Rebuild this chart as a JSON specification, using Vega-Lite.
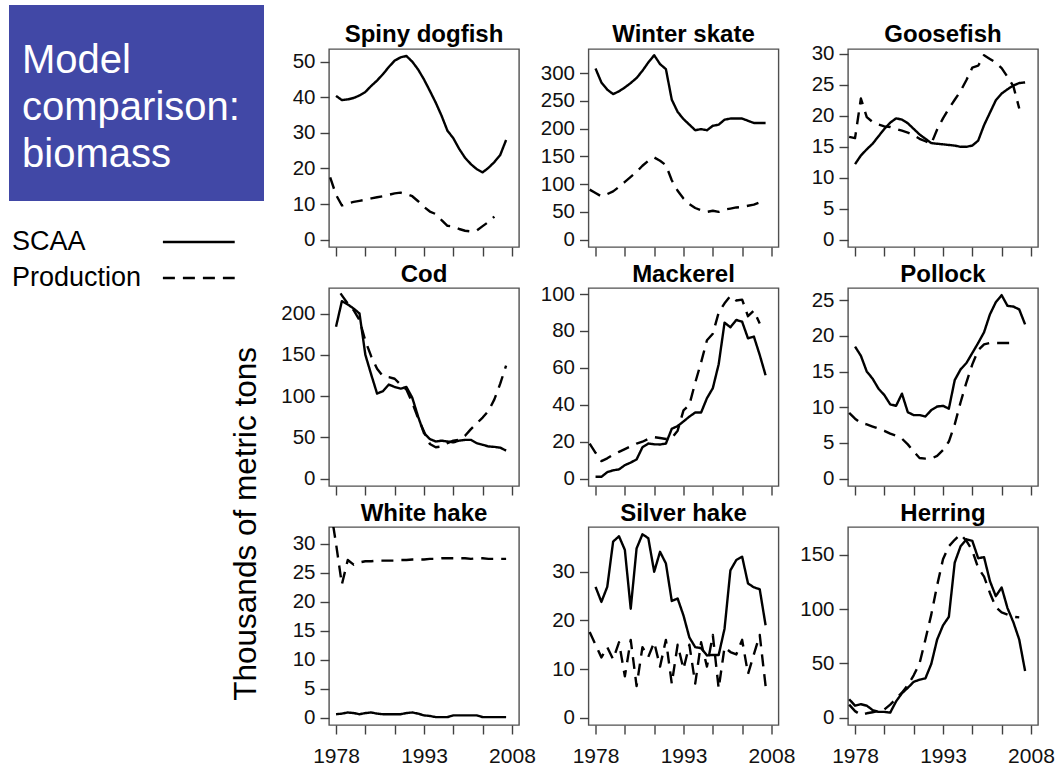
{
  "$schema": "https://vega.github.io/schema/vega-lite/v6.json",
  "padding": {"left": 9, "top": 5, "right": 3, "bottom": 3},
  "spacing": -34,
  "hconcat": [
    {
      "spacing": 23,
      "vconcat": [
        {
          "width": 255,
          "height": 196,
          "view": {"fill": "#4148A6", "stroke": null},
          "data": {"values": [{"line": "Model"}, {"line": "comparison:"}, {"line": "biomass"}]},
          "mark": {"type": "text", "align": "left", "baseline": "alphabetic", "color": "white", "fontSize": 40, "font": "Liberation Sans"},
          "encoding": {
            "x": {"value": 13},
            "y": {"field": "line", "type": "ordinal", "sort": ["Model", "comparison:", "biomass"], "scale": {"type": "point", "range": [68, 162], "padding": 0}, "axis": null},
            "text": {"field": "line"}
          }
        },
        {
          "width": 228,
          "height": 72,
          "view": {"stroke": null},
          "data": {"values": [{"model": "SCAA"}, {"model": "Production"}]},
          "encoding": {
            "y": {"field": "model", "type": "nominal", "sort": ["SCAA", "Production"], "scale": {"type": "point", "padding": 0.5}, "axis": null}
          },
          "layer": [
            {
              "mark": {"type": "text", "align": "left", "baseline": "middle", "fontSize": 27, "font": "Liberation Sans", "color": "black"},
              "encoding": {
                "x": {"datum": 0.013, "type": "quantitative", "scale": {"domain": [0, 1], "nice": false, "zero": false}, "axis": null},
                "text": {"field": "model"}
              }
            },
            {
              "mark": {"type": "rule", "color": "black", "strokeWidth": 2.5},
              "encoding": {
                "x": {"datum": 0.675, "type": "quantitative", "scale": {"domain": [0, 1], "nice": false, "zero": false}, "axis": null},
                "x2": {"datum": 0.99},
                "strokeDash": {"field": "model", "type": "nominal", "scale": {"domain": ["SCAA", "Production"], "range": [[1, 0], [12, 8]]}, "legend": null}
              }
            }
          ]
        }
      ]
    },
    {
      "title": {"text": "Thousands of metric tons", "orient": "left", "anchor": "start", "font": "Liberation Sans", "fontSize": 31.5, "fontWeight": "normal", "color": "black", "baseline": "bottom", "offset": -14, "dx": 66},
      "columns": 3,
      "bounds": "full",
      "align": "each",
      "spacing": {"row": 0, "column": 2.5},
      "data": {"values": [
        {"species":"Spiny dogfish","year":1977,"SCAA":null,"Production":17.5},
        {"species":"Spiny dogfish","year":1978,"SCAA":40.4,"Production":12.6},
        {"species":"Spiny dogfish","year":1979,"SCAA":39.2,"Production":9.6},
        {"species":"Spiny dogfish","year":1980,"SCAA":39.4,"Production":10.2},
        {"species":"Spiny dogfish","year":1981,"SCAA":39.8,"Production":10.6},
        {"species":"Spiny dogfish","year":1982,"SCAA":40.5,"Production":10.9},
        {"species":"Spiny dogfish","year":1983,"SCAA":41.5,"Production":11.2},
        {"species":"Spiny dogfish","year":1984,"SCAA":43.2,"Production":11.6},
        {"species":"Spiny dogfish","year":1985,"SCAA":44.7,"Production":11.9},
        {"species":"Spiny dogfish","year":1986,"SCAA":46.5,"Production":12.2},
        {"species":"Spiny dogfish","year":1987,"SCAA":48.5,"Production":12.6},
        {"species":"Spiny dogfish","year":1988,"SCAA":50.3,"Production":13.0},
        {"species":"Spiny dogfish","year":1989,"SCAA":51.2,"Production":13.2},
        {"species":"Spiny dogfish","year":1990,"SCAA":51.6,"Production":12.8},
        {"species":"Spiny dogfish","year":1991,"SCAA":50.0,"Production":12.2},
        {"species":"Spiny dogfish","year":1992,"SCAA":47.8,"Production":10.8},
        {"species":"Spiny dogfish","year":1993,"SCAA":45.0,"Production":9.2},
        {"species":"Spiny dogfish","year":1994,"SCAA":41.8,"Production":7.9},
        {"species":"Spiny dogfish","year":1995,"SCAA":38.5,"Production":7.2},
        {"species":"Spiny dogfish","year":1996,"SCAA":34.8,"Production":5.5},
        {"species":"Spiny dogfish","year":1997,"SCAA":30.6,"Production":3.9},
        {"species":"Spiny dogfish","year":1998,"SCAA":28.5,"Production":3.7},
        {"species":"Spiny dogfish","year":1999,"SCAA":25.5,"Production":3.0},
        {"species":"Spiny dogfish","year":2000,"SCAA":23.0,"Production":2.5},
        {"species":"Spiny dogfish","year":2001,"SCAA":21.2,"Production":2.3},
        {"species":"Spiny dogfish","year":2002,"SCAA":19.8,"Production":2.6},
        {"species":"Spiny dogfish","year":2003,"SCAA":18.9,"Production":3.8},
        {"species":"Spiny dogfish","year":2004,"SCAA":20.2,"Production":5.0},
        {"species":"Spiny dogfish","year":2005,"SCAA":21.8,"Production":6.5},
        {"species":"Spiny dogfish","year":2006,"SCAA":23.8,"Production":null},
        {"species":"Spiny dogfish","year":2007,"SCAA":28.0,"Production":null},
        {"species":"Winter skate","year":1977,"SCAA":null,"Production":90},
        {"species":"Winter skate","year":1978,"SCAA":308,"Production":84},
        {"species":"Winter skate","year":1979,"SCAA":283,"Production":78},
        {"species":"Winter skate","year":1980,"SCAA":270,"Production":82},
        {"species":"Winter skate","year":1981,"SCAA":262,"Production":87},
        {"species":"Winter skate","year":1982,"SCAA":267,"Production":95},
        {"species":"Winter skate","year":1983,"SCAA":274,"Production":104},
        {"species":"Winter skate","year":1984,"SCAA":282,"Production":113},
        {"species":"Winter skate","year":1985,"SCAA":291,"Production":122},
        {"species":"Winter skate","year":1986,"SCAA":304,"Production":133},
        {"species":"Winter skate","year":1987,"SCAA":319,"Production":142},
        {"species":"Winter skate","year":1988,"SCAA":332,"Production":148},
        {"species":"Winter skate","year":1989,"SCAA":316,"Production":142},
        {"species":"Winter skate","year":1990,"SCAA":307,"Production":134},
        {"species":"Winter skate","year":1991,"SCAA":252,"Production":107},
        {"species":"Winter skate","year":1992,"SCAA":230,"Production":88},
        {"species":"Winter skate","year":1993,"SCAA":217,"Production":74},
        {"species":"Winter skate","year":1994,"SCAA":207,"Production":64},
        {"species":"Winter skate","year":1995,"SCAA":197,"Production":57},
        {"species":"Winter skate","year":1996,"SCAA":199,"Production":53},
        {"species":"Winter skate","year":1997,"SCAA":197,"Production":50},
        {"species":"Winter skate","year":1998,"SCAA":205,"Production":52},
        {"species":"Winter skate","year":1999,"SCAA":207,"Production":50},
        {"species":"Winter skate","year":2000,"SCAA":216,"Production":54},
        {"species":"Winter skate","year":2001,"SCAA":218,"Production":56},
        {"species":"Winter skate","year":2002,"SCAA":218,"Production":58},
        {"species":"Winter skate","year":2003,"SCAA":218,"Production":59},
        {"species":"Winter skate","year":2004,"SCAA":214,"Production":61},
        {"species":"Winter skate","year":2005,"SCAA":210,"Production":63},
        {"species":"Winter skate","year":2006,"SCAA":210,"Production":67},
        {"species":"Winter skate","year":2007,"SCAA":210,"Production":null},
        {"species":"Goosefish","year":1977,"SCAA":null,"Production":16.6},
        {"species":"Goosefish","year":1978,"SCAA":12.2,"Production":16.4},
        {"species":"Goosefish","year":1979,"SCAA":13.6,"Production":22.8},
        {"species":"Goosefish","year":1980,"SCAA":14.6,"Production":19.8},
        {"species":"Goosefish","year":1981,"SCAA":15.5,"Production":19.0},
        {"species":"Goosefish","year":1982,"SCAA":16.7,"Production":18.6},
        {"species":"Goosefish","year":1983,"SCAA":17.9,"Production":18.3},
        {"species":"Goosefish","year":1984,"SCAA":18.9,"Production":18.2},
        {"species":"Goosefish","year":1985,"SCAA":19.6,"Production":17.9},
        {"species":"Goosefish","year":1986,"SCAA":19.4,"Production":17.6},
        {"species":"Goosefish","year":1987,"SCAA":18.8,"Production":17.3},
        {"species":"Goosefish","year":1988,"SCAA":17.9,"Production":16.9},
        {"species":"Goosefish","year":1989,"SCAA":17.0,"Production":16.3},
        {"species":"Goosefish","year":1990,"SCAA":16.3,"Production":15.9},
        {"species":"Goosefish","year":1991,"SCAA":15.6,"Production":15.5},
        {"species":"Goosefish","year":1992,"SCAA":15.5,"Production":17.8},
        {"species":"Goosefish","year":1993,"SCAA":15.4,"Production":19.6},
        {"species":"Goosefish","year":1994,"SCAA":15.3,"Production":21.2},
        {"species":"Goosefish","year":1995,"SCAA":15.2,"Production":22.6},
        {"species":"Goosefish","year":1996,"SCAA":15.0,"Production":24.0},
        {"species":"Goosefish","year":1997,"SCAA":15.0,"Production":25.8},
        {"species":"Goosefish","year":1998,"SCAA":15.2,"Production":27.8},
        {"species":"Goosefish","year":1999,"SCAA":16.0,"Production":28.1},
        {"species":"Goosefish","year":2000,"SCAA":18.5,"Production":29.8},
        {"species":"Goosefish","year":2001,"SCAA":20.5,"Production":29.2},
        {"species":"Goosefish","year":2002,"SCAA":22.5,"Production":28.6},
        {"species":"Goosefish","year":2003,"SCAA":23.6,"Production":27.7},
        {"species":"Goosefish","year":2004,"SCAA":24.3,"Production":26.3},
        {"species":"Goosefish","year":2005,"SCAA":24.9,"Production":24.8},
        {"species":"Goosefish","year":2006,"SCAA":25.3,"Production":21.2},
        {"species":"Goosefish","year":2007,"SCAA":25.4,"Production":null},
        {"species":"Cod","year":1977,"SCAA":null,"Production":245},
        {"species":"Cod","year":1978,"SCAA":184,"Production":232},
        {"species":"Cod","year":1979,"SCAA":215,"Production":222},
        {"species":"Cod","year":1980,"SCAA":211,"Production":212},
        {"species":"Cod","year":1981,"SCAA":206,"Production":204},
        {"species":"Cod","year":1982,"SCAA":200,"Production":192},
        {"species":"Cod","year":1983,"SCAA":150,"Production":167},
        {"species":"Cod","year":1984,"SCAA":126,"Production":148},
        {"species":"Cod","year":1985,"SCAA":103,"Production":133},
        {"species":"Cod","year":1986,"SCAA":106,"Production":124},
        {"species":"Cod","year":1987,"SCAA":114,"Production":123},
        {"species":"Cod","year":1988,"SCAA":111,"Production":121},
        {"species":"Cod","year":1989,"SCAA":109,"Production":114},
        {"species":"Cod","year":1990,"SCAA":111,"Production":108},
        {"species":"Cod","year":1991,"SCAA":98,"Production":92},
        {"species":"Cod","year":1992,"SCAA":75,"Production":73},
        {"species":"Cod","year":1993,"SCAA":55,"Production":57},
        {"species":"Cod","year":1994,"SCAA":48,"Production":42},
        {"species":"Cod","year":1995,"SCAA":45,"Production":38},
        {"species":"Cod","year":1996,"SCAA":46,"Production":39},
        {"species":"Cod","year":1997,"SCAA":45,"Production":43},
        {"species":"Cod","year":1998,"SCAA":44,"Production":46},
        {"species":"Cod","year":1999,"SCAA":46,"Production":47},
        {"species":"Cod","year":2000,"SCAA":47,"Production":52},
        {"species":"Cod","year":2001,"SCAA":47,"Production":60},
        {"species":"Cod","year":2002,"SCAA":43,"Production":67},
        {"species":"Cod","year":2003,"SCAA":41,"Production":74},
        {"species":"Cod","year":2004,"SCAA":39,"Production":82},
        {"species":"Cod","year":2005,"SCAA":38.5,"Production":96},
        {"species":"Cod","year":2006,"SCAA":37.5,"Production":115},
        {"species":"Cod","year":2007,"SCAA":34,"Production":137},
        {"species":"Mackerel","year":1977,"SCAA":null,"Production":19},
        {"species":"Mackerel","year":1978,"SCAA":1,"Production":14},
        {"species":"Mackerel","year":1979,"SCAA":1,"Production":9.5},
        {"species":"Mackerel","year":1980,"SCAA":3.5,"Production":11},
        {"species":"Mackerel","year":1981,"SCAA":4.5,"Production":13},
        {"species":"Mackerel","year":1982,"SCAA":5,"Production":14.5},
        {"species":"Mackerel","year":1983,"SCAA":7.3,"Production":16},
        {"species":"Mackerel","year":1984,"SCAA":8.7,"Production":17.5},
        {"species":"Mackerel","year":1985,"SCAA":10.4,"Production":19},
        {"species":"Mackerel","year":1986,"SCAA":17,"Production":20},
        {"species":"Mackerel","year":1987,"SCAA":19,"Production":21.5},
        {"species":"Mackerel","year":1988,"SCAA":18.6,"Production":22.5},
        {"species":"Mackerel","year":1989,"SCAA":18.5,"Production":22},
        {"species":"Mackerel","year":1990,"SCAA":19,"Production":21.5},
        {"species":"Mackerel","year":1991,"SCAA":27,"Production":22},
        {"species":"Mackerel","year":1992,"SCAA":28.5,"Production":26},
        {"species":"Mackerel","year":1993,"SCAA":31,"Production":37},
        {"species":"Mackerel","year":1994,"SCAA":33.6,"Production":40},
        {"species":"Mackerel","year":1995,"SCAA":35.8,"Production":52},
        {"species":"Mackerel","year":1996,"SCAA":35.8,"Production":63},
        {"species":"Mackerel","year":1997,"SCAA":43.6,"Production":75},
        {"species":"Mackerel","year":1998,"SCAA":49,"Production":78.5},
        {"species":"Mackerel","year":1999,"SCAA":62,"Production":90},
        {"species":"Mackerel","year":2000,"SCAA":84.5,"Production":95},
        {"species":"Mackerel","year":2001,"SCAA":82,"Production":99},
        {"species":"Mackerel","year":2002,"SCAA":86,"Production":96.5},
        {"species":"Mackerel","year":2003,"SCAA":85,"Production":97},
        {"species":"Mackerel","year":2004,"SCAA":76,"Production":88},
        {"species":"Mackerel","year":2005,"SCAA":77,"Production":91},
        {"species":"Mackerel","year":2006,"SCAA":67,"Production":84},
        {"species":"Mackerel","year":2007,"SCAA":56,"Production":null},
        {"species":"Pollock","year":1977,"SCAA":null,"Production":9.2},
        {"species":"Pollock","year":1978,"SCAA":18.5,"Production":8.4},
        {"species":"Pollock","year":1979,"SCAA":17.2,"Production":7.8},
        {"species":"Pollock","year":1980,"SCAA":15.0,"Production":7.6},
        {"species":"Pollock","year":1981,"SCAA":14.0,"Production":7.3},
        {"species":"Pollock","year":1982,"SCAA":12.6,"Production":7.0},
        {"species":"Pollock","year":1983,"SCAA":11.7,"Production":6.7},
        {"species":"Pollock","year":1984,"SCAA":10.4,"Production":6.3},
        {"species":"Pollock","year":1985,"SCAA":10.2,"Production":6.0},
        {"species":"Pollock","year":1986,"SCAA":11.9,"Production":5.6},
        {"species":"Pollock","year":1987,"SCAA":9.3,"Production":4.8},
        {"species":"Pollock","year":1988,"SCAA":8.9,"Production":3.8},
        {"species":"Pollock","year":1989,"SCAA":8.9,"Production":2.9},
        {"species":"Pollock","year":1990,"SCAA":8.7,"Production":2.8},
        {"species":"Pollock","year":1991,"SCAA":9.6,"Production":2.8},
        {"species":"Pollock","year":1992,"SCAA":10.1,"Production":3.2},
        {"species":"Pollock","year":1993,"SCAA":10.2,"Production":4.0},
        {"species":"Pollock","year":1994,"SCAA":9.8,"Production":5.2},
        {"species":"Pollock","year":1995,"SCAA":13.8,"Production":7.6},
        {"species":"Pollock","year":1996,"SCAA":15.3,"Production":10.7},
        {"species":"Pollock","year":1997,"SCAA":16.2,"Production":13.5},
        {"species":"Pollock","year":1998,"SCAA":17.6,"Production":16.0},
        {"species":"Pollock","year":1999,"SCAA":19.0,"Production":18.0},
        {"species":"Pollock","year":2000,"SCAA":20.5,"Production":18.8},
        {"species":"Pollock","year":2001,"SCAA":23.0,"Production":19.0},
        {"species":"Pollock","year":2002,"SCAA":24.7,"Production":19.0},
        {"species":"Pollock","year":2003,"SCAA":25.7,"Production":19.0},
        {"species":"Pollock","year":2004,"SCAA":24.2,"Production":19.0},
        {"species":"Pollock","year":2005,"SCAA":24.1,"Production":19.0},
        {"species":"Pollock","year":2006,"SCAA":23.7,"Production":null},
        {"species":"Pollock","year":2007,"SCAA":21.6,"Production":null},
        {"species":"White hake","year":1977,"SCAA":null,"Production":36.5},
        {"species":"White hake","year":1978,"SCAA":0.6,"Production":30},
        {"species":"White hake","year":1979,"SCAA":0.7,"Production":23},
        {"species":"White hake","year":1980,"SCAA":0.9,"Production":27.2},
        {"species":"White hake","year":1981,"SCAA":0.8,"Production":26.4},
        {"species":"White hake","year":1982,"SCAA":0.6,"Production":26.8},
        {"species":"White hake","year":1983,"SCAA":0.8,"Production":27.0},
        {"species":"White hake","year":1984,"SCAA":0.9,"Production":27.0},
        {"species":"White hake","year":1985,"SCAA":0.7,"Production":27.1},
        {"species":"White hake","year":1986,"SCAA":0.6,"Production":27.1},
        {"species":"White hake","year":1987,"SCAA":0.6,"Production":27.1},
        {"species":"White hake","year":1988,"SCAA":0.6,"Production":27.1},
        {"species":"White hake","year":1989,"SCAA":0.6,"Production":27.2},
        {"species":"White hake","year":1990,"SCAA":0.8,"Production":27.2},
        {"species":"White hake","year":1991,"SCAA":0.9,"Production":27.3},
        {"species":"White hake","year":1992,"SCAA":0.7,"Production":27.3},
        {"species":"White hake","year":1993,"SCAA":0.4,"Production":27.3},
        {"species":"White hake","year":1994,"SCAA":0.3,"Production":27.4},
        {"species":"White hake","year":1995,"SCAA":0.1,"Production":27.4},
        {"species":"White hake","year":1996,"SCAA":0.1,"Production":27.5},
        {"species":"White hake","year":1997,"SCAA":0.1,"Production":27.5},
        {"species":"White hake","year":1998,"SCAA":0.4,"Production":27.5},
        {"species":"White hake","year":1999,"SCAA":0.4,"Production":27.5},
        {"species":"White hake","year":2000,"SCAA":0.4,"Production":27.5},
        {"species":"White hake","year":2001,"SCAA":0.4,"Production":27.4},
        {"species":"White hake","year":2002,"SCAA":0.4,"Production":27.5},
        {"species":"White hake","year":2003,"SCAA":0.1,"Production":27.5},
        {"species":"White hake","year":2004,"SCAA":0.1,"Production":27.4},
        {"species":"White hake","year":2005,"SCAA":0.1,"Production":27.4},
        {"species":"White hake","year":2006,"SCAA":0.1,"Production":27.4},
        {"species":"White hake","year":2007,"SCAA":0.1,"Production":27.4},
        {"species":"Silver hake","year":1977,"SCAA":null,"Production":17.6},
        {"species":"Silver hake","year":1978,"SCAA":26.9,"Production":15},
        {"species":"Silver hake","year":1979,"SCAA":23.8,"Production":12.4},
        {"species":"Silver hake","year":1980,"SCAA":26.9,"Production":14.5},
        {"species":"Silver hake","year":1981,"SCAA":36.2,"Production":12},
        {"species":"Silver hake","year":1982,"SCAA":37.3,"Production":15.5},
        {"species":"Silver hake","year":1983,"SCAA":34.5,"Production":8.5},
        {"species":"Silver hake","year":1984,"SCAA":22.4,"Production":16},
        {"species":"Silver hake","year":1985,"SCAA":34.8,"Production":6.5},
        {"species":"Silver hake","year":1986,"SCAA":37.7,"Production":14.5},
        {"species":"Silver hake","year":1987,"SCAA":36.9,"Production":12.5},
        {"species":"Silver hake","year":1988,"SCAA":30.0,"Production":15.5},
        {"species":"Silver hake","year":1989,"SCAA":34.1,"Production":10.5},
        {"species":"Silver hake","year":1990,"SCAA":31.7,"Production":16},
        {"species":"Silver hake","year":1991,"SCAA":24.0,"Production":7},
        {"species":"Silver hake","year":1992,"SCAA":24.5,"Production":15},
        {"species":"Silver hake","year":1993,"SCAA":21.0,"Production":10},
        {"species":"Silver hake","year":1994,"SCAA":16.5,"Production":15},
        {"species":"Silver hake","year":1995,"SCAA":14.5,"Production":7},
        {"species":"Silver hake","year":1996,"SCAA":14.3,"Production":15.5},
        {"species":"Silver hake","year":1997,"SCAA":12.8,"Production":10.5},
        {"species":"Silver hake","year":1998,"SCAA":12.9,"Production":17},
        {"species":"Silver hake","year":1999,"SCAA":12.9,"Production":6},
        {"species":"Silver hake","year":2000,"SCAA":18.3,"Production":14.5},
        {"species":"Silver hake","year":2001,"SCAA":30.3,"Production":13.5},
        {"species":"Silver hake","year":2002,"SCAA":32.4,"Production":13},
        {"species":"Silver hake","year":2003,"SCAA":33.1,"Production":16},
        {"species":"Silver hake","year":2004,"SCAA":27.6,"Production":9},
        {"species":"Silver hake","year":2005,"SCAA":26.8,"Production":13},
        {"species":"Silver hake","year":2006,"SCAA":26.4,"Production":17},
        {"species":"Silver hake","year":2007,"SCAA":19.0,"Production":6.5},
        {"species":"Herring","year":1977,"SCAA":17,"Production":12},
        {"species":"Herring","year":1978,"SCAA":11,"Production":6},
        {"species":"Herring","year":1979,"SCAA":12.4,"Production":2.5},
        {"species":"Herring","year":1980,"SCAA":11,"Production":4},
        {"species":"Herring","year":1981,"SCAA":7,"Production":5},
        {"species":"Herring","year":1982,"SCAA":5.3,"Production":6},
        {"species":"Herring","year":1983,"SCAA":5.3,"Production":7.5},
        {"species":"Herring","year":1984,"SCAA":4.6,"Production":12},
        {"species":"Herring","year":1985,"SCAA":15,"Production":17.5},
        {"species":"Herring","year":1986,"SCAA":22.5,"Production":23},
        {"species":"Herring","year":1987,"SCAA":27.5,"Production":30},
        {"species":"Herring","year":1988,"SCAA":33,"Production":39},
        {"species":"Herring","year":1989,"SCAA":35,"Production":50},
        {"species":"Herring","year":1990,"SCAA":36.2,"Production":72},
        {"species":"Herring","year":1991,"SCAA":49.5,"Production":95},
        {"species":"Herring","year":1992,"SCAA":72,"Production":122},
        {"species":"Herring","year":1993,"SCAA":85,"Production":146},
        {"species":"Herring","year":1994,"SCAA":93,"Production":158},
        {"species":"Herring","year":1995,"SCAA":143,"Production":164},
        {"species":"Herring","year":1996,"SCAA":158,"Production":169},
        {"species":"Herring","year":1997,"SCAA":164.5,"Production":163},
        {"species":"Herring","year":1998,"SCAA":163,"Production":154},
        {"species":"Herring","year":1999,"SCAA":147,"Production":138},
        {"species":"Herring","year":2000,"SCAA":148,"Production":130},
        {"species":"Herring","year":2001,"SCAA":126,"Production":115},
        {"species":"Herring","year":2002,"SCAA":112,"Production":102},
        {"species":"Herring","year":2003,"SCAA":120,"Production":97},
        {"species":"Herring","year":2004,"SCAA":101,"Production":95},
        {"species":"Herring","year":2005,"SCAA":88,"Production":93},
        {"species":"Herring","year":2006,"SCAA":72,"Production":92.5},
        {"species":"Herring","year":2007,"SCAA":43,"Production":null}
      ]},
      "concat": [
        {"spacing": 0, "bounds": "flush", "vconcat": [
          {"width": 190, "height": 44, "view": {"stroke": null},
           "transform": [{"filter": "datum.species === 'Spiny dogfish'"}, {"aggregate": [{"op": "count", "as": "n"}], "groupby": ["species"]}],
           "mark": {"type": "text", "font": "Liberation Sans", "fontSize": 24, "fontWeight": "bold", "color": "black", "align": "center", "baseline": "alphabetic", "dy": 15},
           "encoding": {"text": {"field": "species"}}},
          {"width": 190, "height": 198,
           "transform": [{"filter": "datum.species === 'Spiny dogfish'"}, {"fold": ["SCAA", "Production"], "as": ["model", "tons"]}],
           "mark": {"type": "line", "clip": true, "color": "black", "strokeWidth": 2.4, "strokeJoin": "round"},
           "encoding": {
             "x": {"field": "year", "type": "quantitative", "scale": {"domain": [1976.8, 2009.2], "nice": false, "zero": false}, "axis": {"values": [1978, 1983, 1988, 1993, 1998, 2003, 2008], "labels": false, "title": null}},
             "y": {"field": "tons", "type": "quantitative", "scale": {"domain": [-2.06, 53.56], "nice": false, "zero": false}, "axis": {"values": [0, 10, 20, 30, 40, 50], "title": null}},
             "strokeDash": {"field": "model", "type": "nominal", "scale": {"domain": ["SCAA", "Production"], "range": [[1, 0], [12, 8]]}, "legend": null}
           }}
        ]},
        {"spacing": 0, "bounds": "flush", "vconcat": [
          {"width": 190, "height": 44, "view": {"stroke": null},
           "transform": [{"filter": "datum.species === 'Winter skate'"}, {"aggregate": [{"op": "count", "as": "n"}], "groupby": ["species"]}],
           "mark": {"type": "text", "font": "Liberation Sans", "fontSize": 24, "fontWeight": "bold", "color": "black", "align": "center", "baseline": "alphabetic", "dy": 15},
           "encoding": {"text": {"field": "species"}}},
          {"width": 190, "height": 198,
           "transform": [{"filter": "datum.species === 'Winter skate'"}, {"fold": ["SCAA", "Production"], "as": ["model", "tons"]}],
           "mark": {"type": "line", "clip": true, "color": "black", "strokeWidth": 2.4, "strokeJoin": "round"},
           "encoding": {
             "x": {"field": "year", "type": "quantitative", "scale": {"domain": [1976.8, 2009.2], "nice": false, "zero": false}, "axis": {"values": [1978, 1983, 1988, 1993, 1998, 2003, 2008], "labels": false, "title": null}},
             "y": {"field": "tons", "type": "quantitative", "scale": {"domain": [-13.2, 343.2], "nice": false, "zero": false}, "axis": {"values": [0, 50, 100, 150, 200, 250, 300], "title": null}},
             "strokeDash": {"field": "model", "type": "nominal", "scale": {"domain": ["SCAA", "Production"], "range": [[1, 0], [12, 8]]}, "legend": null}
           }}
        ]},
        {"spacing": 0, "bounds": "flush", "vconcat": [
          {"width": 190, "height": 44, "view": {"stroke": null},
           "transform": [{"filter": "datum.species === 'Goosefish'"}, {"aggregate": [{"op": "count", "as": "n"}], "groupby": ["species"]}],
           "mark": {"type": "text", "font": "Liberation Sans", "fontSize": 24, "fontWeight": "bold", "color": "black", "align": "center", "baseline": "alphabetic", "dy": 15},
           "encoding": {"text": {"field": "species"}}},
          {"width": 190, "height": 198,
           "transform": [{"filter": "datum.species === 'Goosefish'"}, {"fold": ["SCAA", "Production"], "as": ["model", "tons"]}],
           "mark": {"type": "line", "clip": true, "color": "black", "strokeWidth": 2.4, "strokeJoin": "round"},
           "encoding": {
             "x": {"field": "year", "type": "quantitative", "scale": {"domain": [1976.8, 2009.2], "nice": false, "zero": false}, "axis": {"values": [1978, 1983, 1988, 1993, 1998, 2003, 2008], "labels": false, "title": null}},
             "y": {"field": "tons", "type": "quantitative", "scale": {"domain": [-1.18, 30.8], "nice": false, "zero": false}, "axis": {"values": [0, 5, 10, 15, 20, 25, 30], "title": null}},
             "strokeDash": {"field": "model", "type": "nominal", "scale": {"domain": ["SCAA", "Production"], "range": [[1, 0], [12, 8]]}, "legend": null}
           }}
        ]},
        {"spacing": 0, "bounds": "flush", "vconcat": [
          {"width": 190, "height": 30, "view": {"stroke": null},
           "transform": [{"filter": "datum.species === 'Cod'"}, {"aggregate": [{"op": "count", "as": "n"}], "groupby": ["species"]}],
           "mark": {"type": "text", "font": "Liberation Sans", "fontSize": 24, "fontWeight": "bold", "color": "black", "align": "center", "baseline": "alphabetic", "dy": 8.5},
           "encoding": {"text": {"field": "species"}}},
          {"width": 190, "height": 198,
           "transform": [{"filter": "datum.species === 'Cod'"}, {"fold": ["SCAA", "Production"], "as": ["model", "tons"]}],
           "mark": {"type": "line", "clip": true, "color": "black", "strokeWidth": 2.4, "strokeJoin": "round"},
           "encoding": {
             "x": {"field": "year", "type": "quantitative", "scale": {"domain": [1976.8, 2009.2], "nice": false, "zero": false}, "axis": {"values": [1978, 1983, 1988, 1993, 1998, 2003, 2008], "labels": false, "title": null}},
             "y": {"field": "tons", "type": "quantitative", "scale": {"domain": [-8.9, 230.9], "nice": false, "zero": false}, "axis": {"values": [0, 50, 100, 150, 200], "title": null}},
             "strokeDash": {"field": "model", "type": "nominal", "scale": {"domain": ["SCAA", "Production"], "range": [[1, 0], [12, 8]]}, "legend": null}
           }}
        ]},
        {"spacing": 0, "bounds": "flush", "vconcat": [
          {"width": 190, "height": 30, "view": {"stroke": null},
           "transform": [{"filter": "datum.species === 'Mackerel'"}, {"aggregate": [{"op": "count", "as": "n"}], "groupby": ["species"]}],
           "mark": {"type": "text", "font": "Liberation Sans", "fontSize": 24, "fontWeight": "bold", "color": "black", "align": "center", "baseline": "alphabetic", "dy": 8.5},
           "encoding": {"text": {"field": "species"}}},
          {"width": 190, "height": 198,
           "transform": [{"filter": "datum.species === 'Mackerel'"}, {"fold": ["SCAA", "Production"], "as": ["model", "tons"]}],
           "mark": {"type": "line", "clip": true, "color": "black", "strokeWidth": 2.4, "strokeJoin": "round"},
           "encoding": {
             "x": {"field": "year", "type": "quantitative", "scale": {"domain": [1976.8, 2009.2], "nice": false, "zero": false}, "axis": {"values": [1978, 1983, 1988, 1993, 1998, 2003, 2008], "labels": false, "title": null}},
             "y": {"field": "tons", "type": "quantitative", "scale": {"domain": [-4.0, 103.3], "nice": false, "zero": false}, "axis": {"values": [0, 20, 40, 60, 80, 100], "title": null}},
             "strokeDash": {"field": "model", "type": "nominal", "scale": {"domain": ["SCAA", "Production"], "range": [[1, 0], [12, 8]]}, "legend": null}
           }}
        ]},
        {"spacing": 0, "bounds": "flush", "vconcat": [
          {"width": 190, "height": 30, "view": {"stroke": null},
           "transform": [{"filter": "datum.species === 'Pollock'"}, {"aggregate": [{"op": "count", "as": "n"}], "groupby": ["species"]}],
           "mark": {"type": "text", "font": "Liberation Sans", "fontSize": 24, "fontWeight": "bold", "color": "black", "align": "center", "baseline": "alphabetic", "dy": 8.5},
           "encoding": {"text": {"field": "species"}}},
          {"width": 190, "height": 198,
           "transform": [{"filter": "datum.species === 'Pollock'"}, {"fold": ["SCAA", "Production"], "as": ["model", "tons"]}],
           "mark": {"type": "line", "clip": true, "color": "black", "strokeWidth": 2.4, "strokeJoin": "round"},
           "encoding": {
             "x": {"field": "year", "type": "quantitative", "scale": {"domain": [1976.8, 2009.2], "nice": false, "zero": false}, "axis": {"values": [1978, 1983, 1988, 1993, 1998, 2003, 2008], "labels": false, "title": null}},
             "y": {"field": "tons", "type": "quantitative", "scale": {"domain": [-1.03, 26.7], "nice": false, "zero": false}, "axis": {"values": [0, 5, 10, 15, 20, 25], "title": null}},
             "strokeDash": {"field": "model", "type": "nominal", "scale": {"domain": ["SCAA", "Production"], "range": [[1, 0], [12, 8]]}, "legend": null}
           }}
        ]},
        {"spacing": 0, "bounds": "flush", "vconcat": [
          {"width": 190, "height": 30, "view": {"stroke": null},
           "transform": [{"filter": "datum.species === 'White hake'"}, {"aggregate": [{"op": "count", "as": "n"}], "groupby": ["species"]}],
           "mark": {"type": "text", "font": "Liberation Sans", "fontSize": 24, "fontWeight": "bold", "color": "black", "align": "center", "baseline": "alphabetic", "dy": 8.5},
           "encoding": {"text": {"field": "species"}}},
          {"width": 190, "height": 198,
           "transform": [{"filter": "datum.species === 'White hake'"}, {"fold": ["SCAA", "Production"], "as": ["model", "tons"]}],
           "mark": {"type": "line", "clip": true, "color": "black", "strokeWidth": 2.4, "strokeJoin": "round"},
           "encoding": {
             "x": {"field": "year", "type": "quantitative", "scale": {"domain": [1976.8, 2009.2], "nice": false, "zero": false}, "axis": {"values": [1978, 1983, 1988, 1993, 1998, 2003, 2008], "labelExpr": "(datum.value == 1978 || datum.value == 1993 || datum.value == 2008) ? datum.value : ''", "labelFontSize": 21, "labelPadding": 11, "title": null}},
             "y": {"field": "tons", "type": "quantitative", "scale": {"domain": [-1.26, 32.9], "nice": false, "zero": false}, "axis": {"values": [0, 5, 10, 15, 20, 25, 30], "title": null}},
             "strokeDash": {"field": "model", "type": "nominal", "scale": {"domain": ["SCAA", "Production"], "range": [[1, 0], [12, 8]]}, "legend": null}
           }}
        ]},
        {"spacing": 0, "bounds": "flush", "vconcat": [
          {"width": 190, "height": 30, "view": {"stroke": null},
           "transform": [{"filter": "datum.species === 'Silver hake'"}, {"aggregate": [{"op": "count", "as": "n"}], "groupby": ["species"]}],
           "mark": {"type": "text", "font": "Liberation Sans", "fontSize": 24, "fontWeight": "bold", "color": "black", "align": "center", "baseline": "alphabetic", "dy": 8.5},
           "encoding": {"text": {"field": "species"}}},
          {"width": 190, "height": 198,
           "transform": [{"filter": "datum.species === 'Silver hake'"}, {"fold": ["SCAA", "Production"], "as": ["model", "tons"]}],
           "mark": {"type": "line", "clip": true, "color": "black", "strokeWidth": 2.4, "strokeJoin": "round"},
           "encoding": {
             "x": {"field": "year", "type": "quantitative", "scale": {"domain": [1976.8, 2009.2], "nice": false, "zero": false}, "axis": {"values": [1978, 1983, 1988, 1993, 1998, 2003, 2008], "labelExpr": "(datum.value == 1978 || datum.value == 1993 || datum.value == 2008) ? datum.value : ''", "labelFontSize": 21, "labelPadding": 11, "title": null}},
             "y": {"field": "tons", "type": "quantitative", "scale": {"domain": [-1.5, 39.2], "nice": false, "zero": false}, "axis": {"values": [0, 10, 20, 30], "title": null}},
             "strokeDash": {"field": "model", "type": "nominal", "scale": {"domain": ["SCAA", "Production"], "range": [[1, 0], [12, 8]]}, "legend": null}
           }}
        ]},
        {"spacing": 0, "bounds": "flush", "vconcat": [
          {"width": 190, "height": 30, "view": {"stroke": null},
           "transform": [{"filter": "datum.species === 'Herring'"}, {"aggregate": [{"op": "count", "as": "n"}], "groupby": ["species"]}],
           "mark": {"type": "text", "font": "Liberation Sans", "fontSize": 24, "fontWeight": "bold", "color": "black", "align": "center", "baseline": "alphabetic", "dy": 8.5},
           "encoding": {"text": {"field": "species"}}},
          {"width": 190, "height": 198,
           "transform": [{"filter": "datum.species === 'Herring'"}, {"fold": ["SCAA", "Production"], "as": ["model", "tons"]}],
           "mark": {"type": "line", "clip": true, "color": "black", "strokeWidth": 2.4, "strokeJoin": "round"},
           "encoding": {
             "x": {"field": "year", "type": "quantitative", "scale": {"domain": [1976.8, 2009.2], "nice": false, "zero": false}, "axis": {"values": [1978, 1983, 1988, 1993, 1998, 2003, 2008], "labelExpr": "(datum.value == 1978 || datum.value == 1993 || datum.value == 2008) ? datum.value : ''", "labelFontSize": 21, "labelPadding": 11, "title": null}},
             "y": {"field": "tons", "type": "quantitative", "scale": {"domain": [-6.8, 175.8], "nice": false, "zero": false}, "axis": {"values": [0, 50, 100, 150], "title": null}},
             "strokeDash": {"field": "model", "type": "nominal", "scale": {"domain": ["SCAA", "Production"], "range": [[1, 0], [12, 8]]}, "legend": null}
           }}
        ]}
      ]
    }
  ],
  "config": {
    "font": "Liberation Sans",
    "background": "white",
    "view": {"stroke": "#505050", "strokeWidth": 1.4},
    "axis": {"domain": false, "grid": false, "tickColor": "#404040", "tickWidth": 1.4, "tickSize": 9, "labelFont": "Liberation Sans", "labelFontSize": 20.5, "labelColor": "#111111", "labelPadding": 5, "labelFlush": false, "labelOverlap": false, "labelBound": false}
  }
}
